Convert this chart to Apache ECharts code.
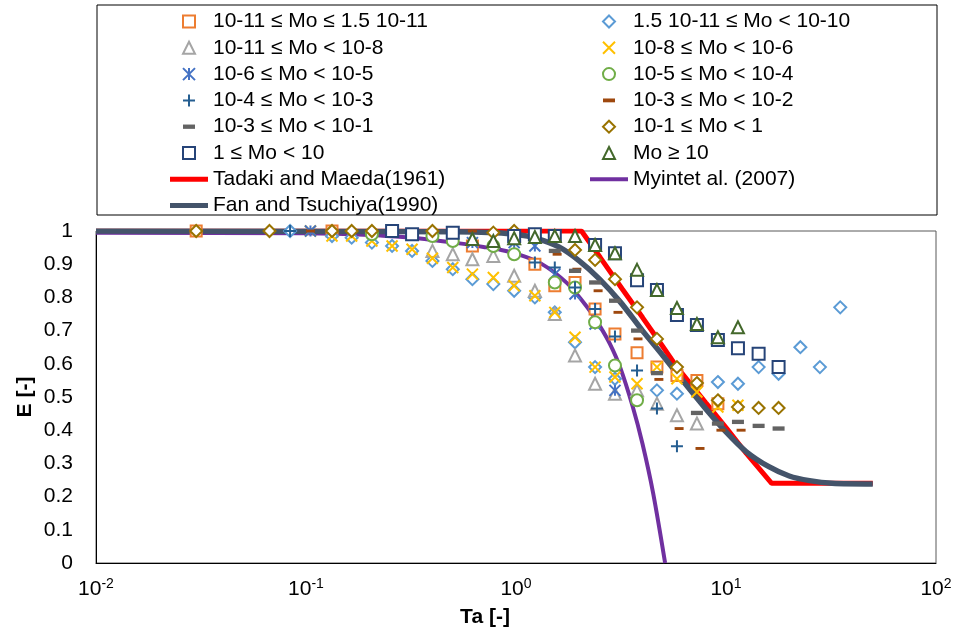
<!DOCTYPE html>
<html>
<head>
<meta charset="utf-8">
<script src="https://cdn.jsdelivr.net/npm/echarts@6/dist/echarts.min.js"></script>
<style>html,body{margin:0;padding:0;background:#fff}#c{width:960px;height:633px}</style>
</head>
<body>
<div id="c"></div>
<script>
// ---- data (Ta, E) ----
const sqOrange = [[0.030,1.0],[0.133,1.0],[0.62,0.955],[1.23,0.90],[1.53,0.835],[1.91,0.845],[2.38,0.765],[2.96,0.69],[3.77,0.633],[4.69,0.59],[5.84,0.565],[7.27,0.55],[9.15,0.48]];
const diaBlue = [[0.084,1.0],[0.133,0.985],[0.165,0.98],[0.206,0.965],[0.257,0.955],[0.32,0.94],[0.40,0.91],[0.50,0.885],[0.62,0.855],[0.78,0.84],[0.98,0.82],[1.23,0.80],[1.53,0.755],[1.91,0.665],[2.38,0.59],[2.96,0.555],[4.69,0.52],[5.84,0.51],[9.15,0.545],[11.4,0.54],[14.3,0.59],[17.8,0.57],[22.6,0.65],[28,0.59],[35,0.77]];
const triGray = [[0.40,0.94],[0.50,0.93],[0.62,0.915],[0.78,0.925],[0.98,0.865],[1.23,0.82],[1.53,0.75],[1.91,0.625],[2.38,0.54],[2.96,0.51],[3.77,0.52],[4.69,0.48],[5.84,0.445],[7.27,0.42]];
const xYellow = [[0.105,1.0],[0.133,0.985],[0.165,0.985],[0.206,0.97],[0.257,0.955],[0.32,0.945],[0.40,0.918],[0.50,0.89],[0.62,0.87],[0.78,0.86],[0.98,0.835],[1.23,0.805],[1.53,0.755],[1.91,0.68],[2.38,0.59],[2.96,0.56],[3.77,0.54],[4.69,0.59],[5.84,0.555],[7.27,0.515],[9.15,0.47],[11.4,0.475]];
const astBlue = [[0.105,1.0],[0.62,0.965],[0.98,0.965],[1.23,0.955],[1.53,0.87],[1.91,0.81],[2.38,0.72],[2.96,0.52]];
const circGreen = [[0.206,0.99],[0.40,0.985],[0.50,0.97],[0.78,0.955],[0.98,0.93],[1.53,0.845],[1.91,0.83],[2.38,0.725],[2.96,0.595],[3.77,0.49]];
const plusBlue = [[0.084,1.0],[1.23,0.905],[1.53,0.89],[1.91,0.83],[2.38,0.765],[2.96,0.682],[3.77,0.58],[4.69,0.465],[5.84,0.352]];
const dashBrown = [[0.105,1.0],[0.62,1.0],[1.57,0.93],[1.95,0.885],[2.46,0.82],[3.06,0.755],[3.81,0.675],[4.79,0.553],[5.98,0.405],[7.52,0.345],[9.46,0.40],[11.8,0.40]];
const dashGray = [[1.53,0.94],[1.91,0.88],[2.38,0.845],[2.96,0.79],[3.77,0.70],[4.69,0.572],[7.27,0.452],[9.15,0.42],[11.4,0.425],[14.3,0.413],[17.8,0.405]];
const diaGold = [[0.03,1.0],[0.067,1.0],[0.133,1.0],[0.165,1.0],[0.206,1.0],[0.40,1.0],[0.78,0.995],[0.98,1.0],[1.91,0.943],[2.38,0.913],[2.96,0.855],[3.77,0.77],[4.69,0.675],[5.84,0.59],[7.27,0.542],[9.15,0.49],[11.4,0.47],[14.3,0.467],[17.8,0.467]];
const sqNavy = [[0.257,1.0],[0.32,0.99],[0.50,0.995],[0.98,0.985],[1.23,0.99],[1.53,0.985],[2.38,0.958],[2.96,0.933],[3.77,0.852],[4.69,0.822],[5.84,0.747],[7.27,0.717],[9.15,0.672],[11.4,0.647],[14.3,0.63],[17.8,0.59]];
const triGreen = [[0.62,0.976],[0.78,0.97],[0.98,0.978],[1.23,0.982],[1.53,0.985],[1.91,0.985],[2.38,0.958],[2.96,0.933],[3.77,0.883],[4.69,0.822],[5.84,0.768],[7.27,0.72],[9.15,0.68],[11.4,0.71]];
const tadaki = [[0.01,1.0],[2.05,1.0],[2.52,0.92],[3.2,0.826],[4.0,0.74],[5.0,0.652],[5.84,0.59],[8,0.483],[10,0.408],[12.5,0.33],[16.5,0.24],[50,0.24]];
const myint = [[0.01,0.995],[0.1,0.993],[0.2,0.988],[0.3,0.981],[0.4,0.973],[0.55,0.962],[0.7,0.952],[0.85,0.943],[1.0,0.932],[1.3,0.904],[1.75,0.843],[2.18,0.771],[2.5,0.715],[2.8,0.66],[3.13,0.59],[3.6,0.47],[4.0,0.36],[4.5,0.21],[5.13,0.0]];
const fan = [[0.01,1.0],[0.5,0.998],[0.8,0.995],[1.0,0.99],[1.25,0.978],[1.6,0.952],[2.0,0.91],[2.5,0.855],[3.15,0.785],[4.0,0.70],[5.0,0.625],[6.3,0.545],[8.0,0.465],[10,0.395],[12.5,0.335],[16,0.29],[20,0.262],[25,0.248],[32,0.24],[50,0.238]];

const names = ['10-11 ≤ Mo ≤ 1.5 10-11','1.5 10-11 ≤ Mo < 10-10','10-11 ≤ Mo < 10-8','10-8 ≤ Mo < 10-6','10-6 ≤ Mo < 10-5','10-5 ≤ Mo < 10-4','10-4 ≤ Mo < 10-3','10-3 ≤ Mo < 10-2','10-3 ≤ Mo < 10-1','10-1 ≤ Mo < 1','1 ≤ Mo < 10','Mo ≥ 10','Tadaki and Maeda(1961)','Myintet al. (2007)','Fan and Tsuchiya(1990)'];

const FONT = '"Liberation Sans", Arial, sans-serif';
const SYM = {
  square: 'path://M0,0L10,0L10,10L0,10Z',
  diamond: 'path://M5,0L10,5L5,10L0,5Z',
  triangle: 'path://M5,0L10,10L0,10Z',
  circle: 'path://M0,5A5,5 0 1 1 10,5A5,5 0 1 1 0,5Z',
  cross: 'path://M0,0L10,10M10,0L0,10',
  star: 'path://M0,0L10,10M10,0L0,10M5,0L5,10',
  plus: 'path://M5,0L5,10M0,5L10,5',
  dashS: 'path://M0,0M10,10M0,3.4L10,3.4L10,6.6L0,6.6Z',
  dashL: 'path://M0,0M10,10M0,3.2L10,3.2L10,6.8L0,6.8Z'
};
const IH = 12;
function barIcon(h) {
  const a = (IH - h) / 2, b = a + h;
  return 'path://M0,0M38,' + IH + 'M0,' + a + 'L38,' + a + 'L38,' + b + 'L0,' + b + 'Z';
}

function hollow(name, data, sym, color, size) {
  return {name, type:'scatter', data, symbol:sym, symbolSize:size, z:3,
    itemStyle:{color:'#fff', borderColor:color, borderWidth:2, opacity:1}};
}
function stroke(name, data, sym, color, size) {
  return {name, type:'scatter', data, symbol:sym, symbolSize:size, z:3,
    itemStyle:{color:color, borderColor:color, borderWidth:2, opacity:1}};
}
function filled(name, data, sym, color, size) {
  return {name, type:'scatter', data, symbol:sym, symbolSize:size, z:3,
    itemStyle:{color:color, opacity:1}};
}
function curve(name, data, color, width, smooth) {
  return {name, type:'line', data, symbol:'none', showSymbol:false, smooth:smooth, z:2, color:color,
    lineStyle:{color, width}};
}

const series = [
  curve(names[12], tadaki, '#FF0000', 5, false),
  curve(names[13], myint, '#7030A0', 4, 0.3),
  curve(names[14], fan, '#44546A', 5.5, 0.3),
  hollow(names[0], sqOrange, SYM.square, '#ED7D31', 11),
  hollow(names[1], diaBlue, SYM.diamond, '#5B9BD5', 12),
  hollow(names[2], triGray, SYM.triangle, '#A5A5A5', 12),
  stroke(names[3], xYellow, SYM.cross, '#FFC000', 11),
  stroke(names[4], astBlue, SYM.star, '#4472C4', 11),
  hollow(names[5], circGreen, SYM.circle, '#70AD47', 12),
  stroke(names[6], plusBlue, SYM.plus, '#255E91', 12),
  filled(names[7], dashBrown, SYM.dashS, '#9E480E', 9),
  filled(names[8], dashGray, SYM.dashL, '#636363', 12),
  hollow(names[9], diaGold, SYM.diamond, '#997300', 12),
  hollow(names[10], sqNavy, SYM.square, '#264478', 12),
  hollow(names[11], triGreen, SYM.triangle, '#43682B', 12)
];

const lineLegend = {};
lineLegend[names[12]] = {name:names[12], icon:barIcon(5), itemStyle:{color:'#FF0000', borderWidth:0}};
lineLegend[names[13]] = {name:names[13], icon:barIcon(4), itemStyle:{color:'#7030A0', borderWidth:0}};
lineLegend[names[14]] = {name:names[14], icon:barIcon(5), itemStyle:{color:'#44546A', borderWidth:0}};
function legendItem(i) { return lineLegend[names[i]] || names[i]; }

const legendBase = {orient:'vertical', top:6, itemWidth:38, itemHeight:IH, itemGap:5.3, selectedMode:false,
  textStyle:{fontSize:21, color:'#000', fontFamily:FONT}};

const chart = echarts.init(document.getElementById('c'), null, {renderer:'canvas'});
chart.setOption({
  animation:false,
  backgroundColor:'#fff',
  grid:{left:96, right:24, top:231, bottom:70, show:true, borderColor:'#595959', borderWidth:1, containLabel:false},
  legend:[
    Object.assign({}, legendBase, {left:165, data:[0,2,4,6,8,10,12,14].map(legendItem)}),
    Object.assign({}, legendBase, {left:585, data:[1,3,5,7,9,11,13].map(legendItem)})
  ],
  xAxis:{type:'log', logBase:10, min:0.01, max:100,
    axisLine:{show:true, onZero:false, lineStyle:{color:'#000', width:1}},
    axisTick:{show:false}, splitLine:{show:false},
    axisLabel:{margin:14, color:'#000',
      formatter:function(v){ return '{b|10}{s|' + Math.round(Math.log10(v)) + '}'; },
      rich:{b:{fontSize:21, fontFamily:FONT, color:'#000', lineHeight:24},
            s:{fontSize:14, fontFamily:FONT, color:'#000', verticalAlign:'top', lineHeight:14}}}},
  yAxis:{type:'value', min:0, max:1, interval:0.1,
    axisLine:{show:true, lineStyle:{color:'#000', width:1}},
    axisTick:{show:false}, splitLine:{show:false},
    axisLabel:{margin:23, fontSize:21, color:'#000', fontFamily:FONT,
      formatter:function(v){ return String(Math.round(v*10)/10); }}},
  graphic:[
    {type:'rect', shape:{x:97, y:5, width:840, height:210}, style:{fill:'none', stroke:'#000', lineWidth:1}, z:0},
    {type:'text', x:485, y:617, style:{text:'Ta [-]', font:'bold 21px ' + FONT, fill:'#000', textAlign:'center', textVerticalAlign:'middle'}},
    {type:'text', x:25, y:397, rotation:Math.PI/2, style:{text:'E [-]', font:'bold 21px ' + FONT, fill:'#000', textAlign:'center', textVerticalAlign:'middle'}}
  ],
  series: series
});
</script>
</body>
</html>
